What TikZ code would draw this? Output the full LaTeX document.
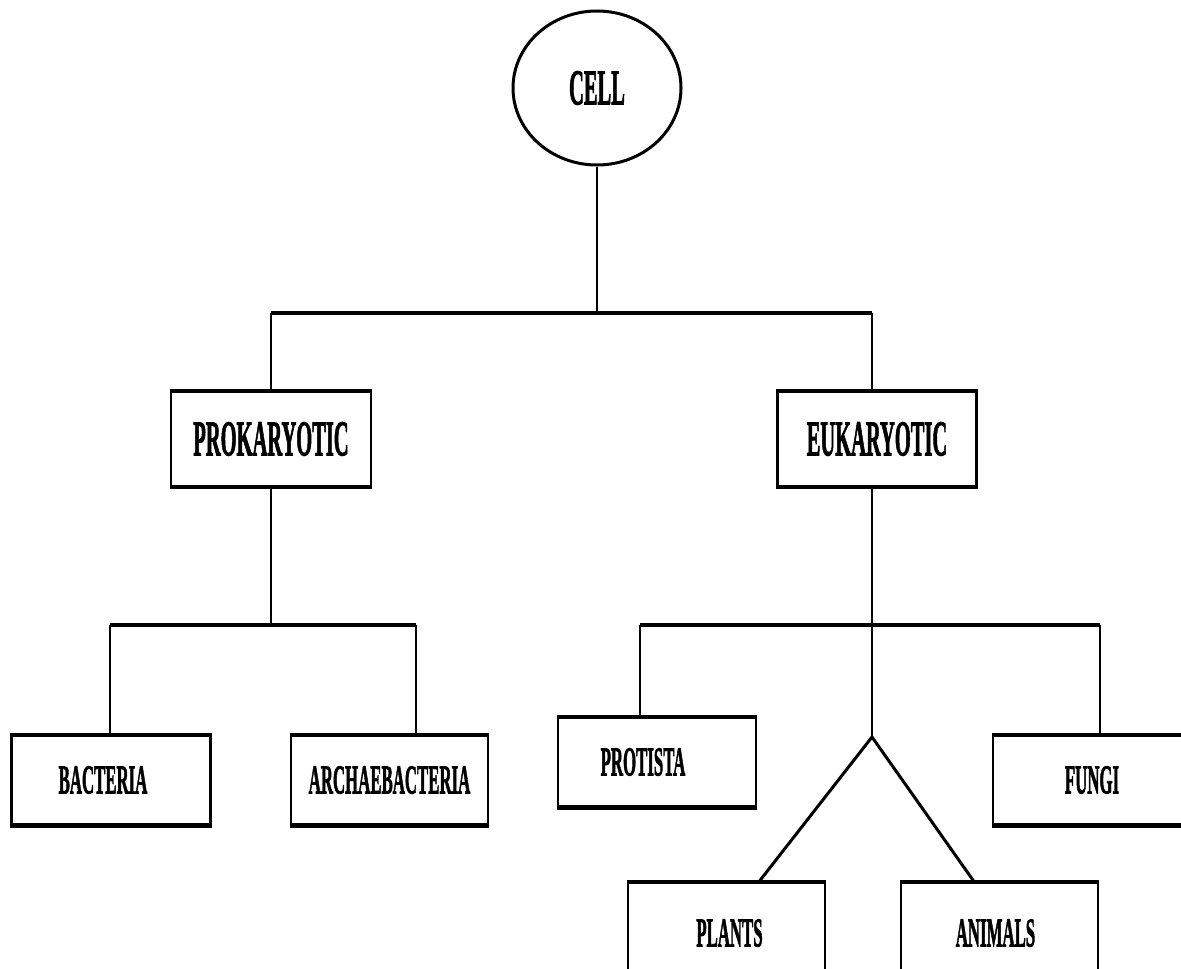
\documentclass[tikz,border=0pt]{standalone}
\usepackage{fontspec}
\setmainfont{Liberation Serif}[BoldFeatures={FakeBold=2.2}]
\usetikzlibrary{shapes.geometric}

% condensed bold serif labels
\newcommand{\biglbl}[1]{\fontsize{50}{56}\selectfont\bfseries\scalebox{0.41}[1]{#1}}
\newcommand{\smalllbl}[1]{\fontsize{41}{46}\selectfont\bfseries\scalebox{0.41}[1]{#1}}

\tikzset{
  vline/.style={line width=2.2pt, line cap=butt},
  hline/.style={line width=3.8pt, line cap=butt},
  dline/.style={line width=3pt},
  catbox/.style={draw, line width=2.2pt, fill=white, inner sep=0pt,
                 minimum width=#1, minimum height=94pt},
  catbox/.default=200pt,
  leafbox/.style={draw, line width=2.2pt, fill=white, inner sep=0pt,
                  minimum width=#1, minimum height=89pt},
  leafbox/.default=198pt,
  cellnode/.style={ellipse, draw, line width=3pt, minimum width=168pt,
                   minimum height=154pt, inner sep=0pt}
}

\begin{document}
\begin{tikzpicture}[x=1pt,y=-1pt]
\useasboundingbox (0,0) rectangle (1181,969);
\clip (0,0) rectangle (1181,969);
\fill[white] (0,0) rectangle (1181,969);

% root
\node[cellnode] (cell) at (597,88) {\biglbl{CELL}};

% first level
\node[catbox] (prok) at (271,439) {\biglbl{PROKARYOTIC}};
\node[catbox=199pt] (euk) at (877,439) {\biglbl{EUKARYOTIC}};

% prokaryote groups
\node[leafbox=199pt] (bact) at (111,780) {\smalllbl{BACTERIA}\hspace*{16pt}};
\node[leafbox=197pt] (arch) at (389.5,780) {\smalllbl{ARCHAEBACTERIA}};

% eukaryote groups
\node[leafbox=198pt] (prot) at (657,762) {\smalllbl{PROTISTA}\hspace*{28pt}};
\node[leafbox=198pt] (fungi) at (1092,780) {\smalllbl{FUNGI}};
\node[leafbox=197pt, minimum height=100pt] (plants) at (726.5,933) {\raisebox{-5pt}{\smalllbl{PLANTS}}\hspace*{-6pt}};
\node[leafbox=197pt, minimum height=100pt] (animals) at (999.5,933) {\raisebox{-5pt}{\smalllbl{ANIMALS}}\hspace*{8pt}};

% heavier top and bottom edges of the boxes
\foreach \b in {prok,euk,bact,arch,prot,fungi,plants,animals}{
  \draw[hline] (\b.north west) -- (\b.north east);
  \draw[hline] (\b.south west) -- (\b.south east);
}

% junctions
\coordinate (j0) at (597,313);
\coordinate (jp) at (271,625);
\coordinate (je) at (872,625);
\coordinate (apex) at (872,737);

% cell -> prokaryotic / eukaryotic
\draw[vline] (cell.south) -- (j0);
\draw[hline] (271,313) -- (872,313);
\draw[vline] (271,313) -- (prok.north);
\draw[vline] (872,313) -- (872,392);

% prokaryotic -> bacteria / archaebacteria
\draw[vline] (prok.south) -- (jp);
\draw[hline] (110,625) -- (416,625);
\draw[vline] (110,625) -- (110,735);
\draw[vline] (416,625) -- (416,735);

% eukaryotic -> protista / fungi / plants / animals
\draw[vline] (872,486) -- (je) -- (apex);
\draw[hline] (640,625) -- (1100,625);
\draw[vline] (640,625) -- (640,717);
\draw[vline] (1100,625) -- (1100,735);
\draw[dline] (apex) -- (758,883);
\draw[dline] (apex) -- (975,883);
\end{tikzpicture}
\end{document}
